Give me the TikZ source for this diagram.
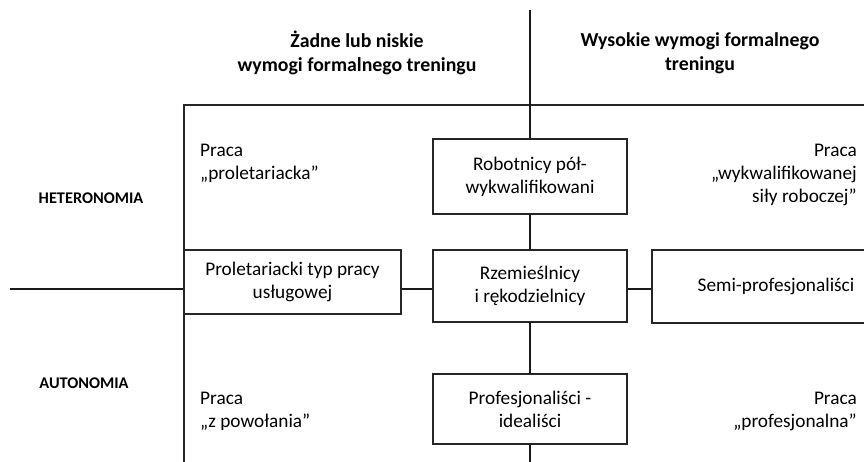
\documentclass[tikz,border=0pt]{standalone}
\usepackage{fontspec}
\setmainfont{Carlito}
\usetikzlibrary{calc}
\tikzset{
  typbox/.style={draw=black!85, line width=1.2pt, align=center, inner sep=0pt,
    font=\fontsize{19.3}{23}\selectfont},
  opis/.style={inner sep=0pt, font=\fontsize{19.3}{23}\selectfont},
  naglowek/.style={inner sep=0pt, align=center, font=\bfseries\fontsize{19.8}{23.5}\selectfont},
  wymiar/.style={inner sep=0pt, font=\bfseries\fontsize{16.3}{20}\selectfont},
  os/.style={line width=1.6pt, black!90}
}
\begin{document}
\begin{tikzpicture}[x=1pt,y=-1pt]
  \useasboundingbox (0,0) rectangle (864,462);
  \clip (0,0) rectangle (864,462);
  % rama
  \draw [line width=1.2pt, black!85] (184,480) -- (184,105) -- (900,105);
  % pola
  \node [typbox, minimum width=194pt, minimum height=75pt] (robot) at (530,176.5) {Robotnicy pół-\\wykwalifikowani};
  \node [typbox, minimum width=194pt, minimum height=72pt] (rzem) at (530,286) {Rzemieślnicy\\i rękodzielnicy};
  \node [typbox, minimum width=194pt, minimum height=70pt] (prof) at (530,409) {Profesjonaliści -\\idealiści};
  \node [typbox, minimum width=217pt, minimum height=64pt] (prolet) at (292.5,282) {Proletariacki typ pracy\\usługowej};
  \node [typbox, minimum width=248pt, minimum height=73pt] (semi) at (776,286.5) {Semi-profesjonaliści};
  % osie
  \coordinate (osgora) at (530,10);
  \coordinate (osdol) at (530,470);
  \coordinate (oslewo) at (10,289);
  \draw [os] (osgora) -- (robot.north);
  \draw [os] (robot.south) -- (rzem.north);
  \draw [os] (rzem.south) -- (prof.north);
  \draw [os] (prof.south) -- (osdol);
  \draw [os] (oslewo) -- (oslewo -| prolet.west);
  \draw [os] (prolet.east |- oslewo) -- (oslewo -| rzem.west);
  \draw [os] (rzem.east |- oslewo) -- (oslewo -| semi.west);
  % naglowki
  \node [naglowek] (niskie) at (357,53) {Żadne lub niskie\\wymogi formalnego treningu};
  \node [naglowek] (wysokie) at (700,53) {Wysokie wymogi formalnego\\treningu};
  \node [wymiar] (hetero) at (91,198) {HETERONOMIA};
  \node [wymiar] (auto) at (84,383) {AUTONOMIA};
  % opisy cwiartek
  \node [opis, anchor=west, align=left] (proletariacka) at (200,163.5) {Praca\\„proletariacka”};
  \node [opis, anchor=west, align=left] (powolania) at (200,411.5) {Praca\\„z powołania”};
  \node [opis, anchor=east, align=right] (wykwal) at (857,175) {Praca\\„wykwalifikowanej\\siły roboczej”};
  \node [opis, anchor=east, align=right] (profesjonalna) at (857,411.5) {Praca\\„profesjonalna”};
\end{tikzpicture}
\end{document}
